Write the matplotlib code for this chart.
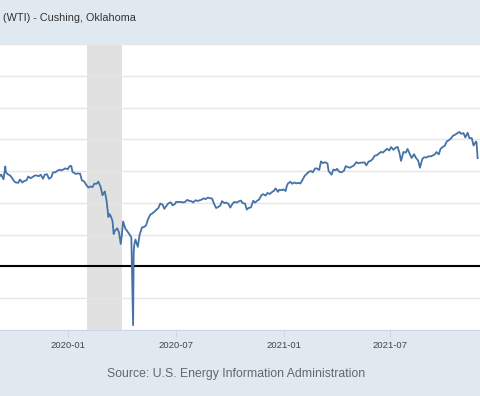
import numpy as np
import pandas as pd
import matplotlib
matplotlib.use("Agg")
import matplotlib.pyplot as plt
import matplotlib.dates as mdates

# WTI spot price (USD per barrel)
dates = [
    "2019-09-06", "2019-09-09", "2019-09-13", "2019-09-16", "2019-09-17", "2019-09-20",
    "2019-09-24", "2019-09-27", "2019-10-01", "2019-10-04", "2019-10-08", "2019-10-11",
    "2019-10-15", "2019-10-18", "2019-10-22", "2019-10-25", "2019-10-29", "2019-11-01",
    "2019-11-05", "2019-11-08", "2019-11-12", "2019-11-15", "2019-11-19", "2019-11-22",
    "2019-11-26", "2019-11-29", "2019-12-03", "2019-12-06", "2019-12-10", "2019-12-13",
    "2019-12-17", "2019-12-20", "2019-12-24", "2019-12-27", "2019-12-31",
    "2020-01-03", "2020-01-06", "2020-01-08", "2020-01-10", "2020-01-14", "2020-01-17",
    "2020-01-21", "2020-01-24", "2020-01-28", "2020-01-31", "2020-02-04", "2020-02-07",
    "2020-02-11", "2020-02-14", "2020-02-18", "2020-02-21", "2020-02-25", "2020-02-28",
    "2020-03-03", "2020-03-06", "2020-03-09", "2020-03-11", "2020-03-13", "2020-03-16",
    "2020-03-18", "2020-03-20", "2020-03-24", "2020-03-27", "2020-03-30", "2020-04-01",
    "2020-04-03", "2020-04-07", "2020-04-09", "2020-04-14", "2020-04-17", "2020-04-20",
    "2020-04-21", "2020-04-22", "2020-04-24", "2020-04-28", "2020-05-01", "2020-05-05",
    "2020-05-08", "2020-05-12", "2020-05-15", "2020-05-19", "2020-05-22", "2020-05-26",
    "2020-05-29", "2020-06-02", "2020-06-05", "2020-06-09", "2020-06-12", "2020-06-16",
    "2020-06-19", "2020-06-23", "2020-06-26", "2020-06-30", "2020-07-02", "2020-07-07",
    "2020-07-10", "2020-07-14", "2020-07-17", "2020-07-21", "2020-07-24", "2020-07-28",
    "2020-07-31", "2020-08-04", "2020-08-07", "2020-08-11", "2020-08-14", "2020-08-18",
    "2020-08-21", "2020-08-25", "2020-08-28", "2020-09-01", "2020-09-04", "2020-09-08",
    "2020-09-11", "2020-09-15", "2020-09-18", "2020-09-22", "2020-09-25", "2020-09-29",
    "2020-10-02", "2020-10-06", "2020-10-09", "2020-10-13", "2020-10-16", "2020-10-20",
    "2020-10-23", "2020-10-27", "2020-10-30", "2020-11-02", "2020-11-06", "2020-11-10",
    "2020-11-13", "2020-11-17", "2020-11-20", "2020-11-24", "2020-11-27", "2020-12-01",
    "2020-12-04", "2020-12-08", "2020-12-11", "2020-12-15", "2020-12-18", "2020-12-22",
    "2020-12-24", "2020-12-29", "2020-12-31",
    "2021-01-04", "2021-01-06", "2021-01-08", "2021-01-12", "2021-01-15", "2021-01-19",
    "2021-01-22", "2021-01-26", "2021-01-29", "2021-02-02", "2021-02-05", "2021-02-09",
    "2021-02-12", "2021-02-16", "2021-02-19", "2021-02-23", "2021-02-26", "2021-03-02",
    "2021-03-05", "2021-03-08", "2021-03-12", "2021-03-16", "2021-03-18", "2021-03-23",
    "2021-03-26", "2021-03-30", "2021-04-01", "2021-04-06", "2021-04-09", "2021-04-13",
    "2021-04-16", "2021-04-20", "2021-04-23", "2021-04-27", "2021-04-30", "2021-05-04",
    "2021-05-07", "2021-05-11", "2021-05-14", "2021-05-18", "2021-05-21", "2021-05-25",
    "2021-05-28", "2021-06-01", "2021-06-04", "2021-06-08", "2021-06-11", "2021-06-15",
    "2021-06-18", "2021-06-22", "2021-06-25", "2021-06-29", "2021-07-02", "2021-07-06",
    "2021-07-09", "2021-07-13", "2021-07-16", "2021-07-19", "2021-07-23", "2021-07-27",
    "2021-07-30", "2021-08-03", "2021-08-06", "2021-08-10", "2021-08-13", "2021-08-17",
    "2021-08-20", "2021-08-24", "2021-08-27", "2021-08-31", "2021-09-03", "2021-09-08",
    "2021-09-10", "2021-09-14", "2021-09-17", "2021-09-21", "2021-09-24", "2021-09-28",
    "2021-10-01", "2021-10-05", "2021-10-08", "2021-10-12", "2021-10-15", "2021-10-19",
    "2021-10-22", "2021-10-26", "2021-10-29", "2021-11-02", "2021-11-05", "2021-11-09",
    "2021-11-12", "2021-11-16", "2021-11-19", "2021-11-23", "2021-11-24", "2021-11-26",
]
prices = [
    56.52, 57.85, 54.85, 62.90, 59.34, 58.09,
    57.29, 55.91, 53.62, 52.81, 52.63, 54.70,
    52.81, 53.78, 54.16, 56.63, 55.54, 56.20,
    57.23, 57.24, 56.80, 57.72, 55.21, 57.77,
    58.01, 55.17, 56.10, 59.20, 59.24, 60.07,
    60.94, 60.44, 61.11, 61.76, 61.14,
    63.05, 63.27, 59.61, 59.04, 58.23, 58.52,
    58.38, 54.19, 53.48, 51.58, 49.60, 50.32,
    49.94, 52.05, 52.05, 53.38, 49.93, 44.83,
    47.23, 41.28, 31.13, 32.98, 31.73, 28.69,
    20.37, 22.43, 24.00, 21.51, 14.10, 20.31,
    28.34, 23.63, 22.76, 20.11, 18.31, -36.98,
    8.91, 13.64, 16.94, 12.34, 19.78, 24.56,
    24.74, 25.78, 29.43, 32.50, 33.25, 34.35,
    35.49, 36.81, 39.55, 38.94, 36.26, 38.38,
    39.75, 40.37, 38.49, 39.27, 40.65, 40.62,
    40.55, 40.29, 40.59, 41.92, 41.29, 41.04,
    40.27, 41.70, 41.22, 41.61, 42.01, 42.89,
    42.34, 43.35, 42.96, 42.76, 39.77, 36.76,
    37.33, 38.28, 41.11, 39.80, 40.25, 39.29,
    37.05, 39.57, 40.60, 40.20, 40.88, 41.46,
    39.85, 39.57, 35.79, 36.81, 37.14, 41.36,
    40.13, 41.43, 42.15, 44.91, 45.53, 44.55,
    46.26, 45.60, 46.57, 47.62, 49.10, 46.96,
    48.23, 48.00, 48.52,
    47.47, 50.68, 52.24, 53.29, 52.04, 52.85,
    52.27, 52.61, 52.20, 54.75, 56.85, 58.38,
    59.47, 60.08, 59.24, 61.70, 61.66, 60.75,
    66.09, 65.05, 65.61, 64.80, 60.00, 57.76,
    60.97, 60.55, 61.45, 59.33, 59.32, 60.18,
    63.13, 62.44, 62.14, 62.94, 63.58, 65.69,
    64.90, 65.28, 65.37, 65.49, 63.58, 66.07,
    66.32, 67.72, 69.62, 70.05, 70.91, 72.12,
    71.64, 73.06, 74.05, 72.98, 75.16, 73.37,
    74.56, 75.25, 71.81, 66.42, 72.07, 71.65,
    73.95, 70.56, 68.28, 70.63, 68.44, 66.59,
    62.14, 67.54, 68.74, 68.50, 69.29, 69.30,
    69.72, 70.45, 71.97, 70.56, 73.98, 75.29,
    75.88, 78.93, 79.35, 80.64, 82.28, 82.96,
    83.76, 84.65, 83.50, 83.91, 81.17, 84.15,
    80.79, 80.76, 76.10, 78.50, 78.39, 68.15,
]
recession = ("2020-02-01", "2020-04-01")
tick_dates = ["2020-01-01", "2020-07-01", "2021-01-01", "2021-07-01"]
title = "(WTI) - Cushing, Oklahoma"
source = "Source: U.S. Energy Information Administration"

x = pd.to_datetime(dates)
bg = "#e1e9f0"

fig = plt.figure(figsize=(4.8, 3.96), dpi=100, facecolor=bg)
ax = fig.add_axes([0, 66 / 396, 1, 286 / 396])
ax.set_facecolor("white")

ax.axvspan(pd.Timestamp(recession[0]), pd.Timestamp(recession[1]),
           color="#e1e1e1", lw=0, zorder=1)
ax.set_yticks(np.arange(-40, 141, 20))
ax.grid(axis="y", color="#e6e6e6", lw=1, zorder=0)
ax.axhline(0, color="black", lw=1.5, zorder=2)
ax.plot(x, prices, color="#4572a7", lw=1.3, zorder=3)

ax.set_xlim(pd.Timestamp("2019-09-07"), pd.Timestamp("2021-11-30"))
ax.set_ylim(-40, 140)

for s in ["top", "left", "right"]:
    ax.spines[s].set_visible(False)
ax.spines["bottom"].set_color("#ccd6eb")

ax.set_xticks(pd.to_datetime(tick_dates))
ax.xaxis.set_major_formatter(mdates.DateFormatter("%Y-%m"))
ax.tick_params(axis="x", length=5, color="#ccd6eb", labelsize=6.8,
               labelcolor="#444444", pad=3)
for lab in ax.get_xticklabels():
    lab.set_fontfamily("Liberation Sans")
ax.tick_params(axis="y", left=False, labelleft=False)

fig.text(3 / 480, 1 - 18 / 396, title, ha="left", va="center",
         fontsize=7.8, color="#333333", family="Liberation Sans")
fig.text(236 / 480, 22 / 396, source, ha="center", va="center",
         fontsize=8.85, color="#666666", family="Liberation Sans")

fig.savefig("out.png", dpi=100, facecolor=bg)
